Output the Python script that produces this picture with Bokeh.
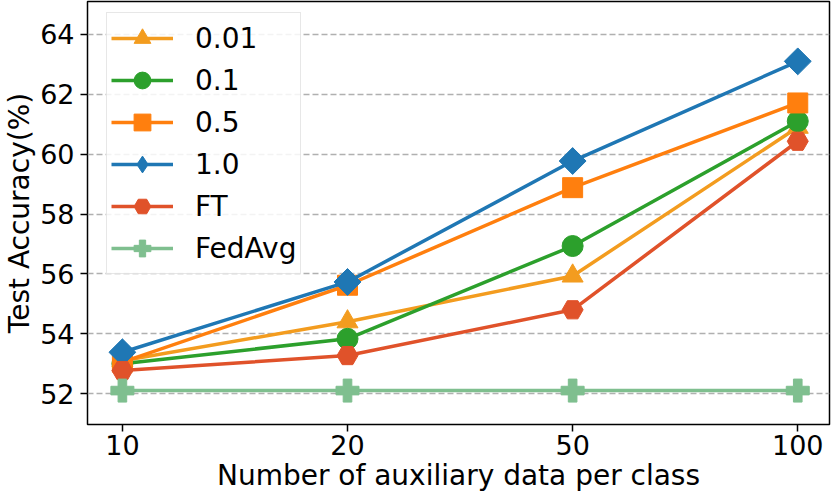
import math
from bokeh.plotting import figure
from bokeh.models import FixedTicker, Legend, LegendItem, Range1d
from bokeh.embed import file_html
from bokeh.resources import INLINE

categories = ["10", "20", "50", "100"]
series_names = ["0.01", "0.1", "0.5", "1.0", "FT", "FedAvg"]
acc_001 = [53.10, 54.40, 55.93, 60.90]
acc_01 = [53.00, 53.83, 56.93, 61.10]
acc_05 = [53.05, 55.62, 58.88, 61.71]
acc_10 = [53.38, 55.73, 59.77, 63.10]
acc_ft = [52.77, 53.27, 54.80, 60.43]
acc_fedavg = [52.10, 52.10, 52.10, 52.10]
y_ticks = [52, 54, 56, 58, 60, 62, 64]

series = [acc_001, acc_01, acc_05, acc_10, acc_ft, acc_fedavg]
colors = ["#f39c1f", "#2ca02c", "#ff7f0e", "#1f77b4", "#e0522a", "#7fbf8f"]
markers = ["triangle", "circle", "square", "square", "hex", "plus"]
legend_markers = ["triangle", "circle", "square", "diamond", "hex", "plus"]
angles = [0, 0, 0, math.pi / 4, 0, 0]
msizes = [21, 21, 20, 19, 21, 23]

xs = list(range(len(categories)))

FONT = "DejaVu Sans"
W, H = 831, 500
BL, BR, BT, BB = 84, 2, 1, 76

p = figure(width=W, height=H, output_backend="svg", toolbar_location=None,
           x_range=Range1d(-0.155, 3.141), y_range=Range1d(50.967, 65.1),
           min_border_left=BL, min_border_right=BR, min_border_top=BT,
           min_border_bottom=BB)

p.outline_line_color = "black"
p.outline_line_width = 1.5
p.outline_line_alpha = 1.0

p.xgrid.visible = False
p.ygrid.grid_line_color = "#b0b0b0"
p.ygrid.grid_line_dash = "6 3"
p.ygrid.grid_line_width = 1.5

for ax in (p.xaxis[0], p.yaxis[0]):
    ax.axis_line_color = None
    ax.major_tick_line_color = "black"
    ax.major_tick_line_width = 1.5
    ax.major_tick_out = 7
    ax.major_tick_in = 0
    ax.minor_tick_line_color = None
    ax.major_label_text_font = FONT
    ax.major_label_text_font_size = "27px"
    ax.major_label_text_color = "black"
    ax.axis_label_text_font = FONT
    ax.axis_label_text_font_size = "28px"
    ax.axis_label_text_font_style = "normal"
    ax.axis_label_text_color = "black"

p.xaxis.ticker = FixedTicker(ticks=xs)
p.xaxis.major_label_overrides = {i: c for i, c in zip(xs, categories)}
p.xaxis.axis_label = "Number of auxiliary data per class"
p.xaxis.axis_label_standoff = 1
p.xaxis.major_label_standoff = 3

p.yaxis.ticker = FixedTicker(ticks=y_ticks)
p.yaxis.axis_label = "Test Accuracy(%)"
p.yaxis.axis_label_standoff = 1
p.yaxis.major_label_standoff = 6

items = []
for name, vals, c, m, lm, a, s in zip(series_names, series, colors, markers,
                                      legend_markers, angles, msizes):
    r1 = p.line(xs, vals, line_color=c, line_width=3.5)
    if lm != m:
        # legend-shaped marker, drawn beneath (and hidden by) the plotted marker
        r_leg = p.scatter(xs, vals, marker=lm, size=s, fill_color=c,
                          line_color=c, line_width=1)
    r2 = p.scatter(xs, vals, marker=m, size=s, angle=a, fill_color=c,
                   line_color=c, line_width=1)
    if lm != m:
        items.append(LegendItem(label=name, renderers=[r1, r_leg]))
    else:
        items.append(LegendItem(label=name, renderers=[r1, r2]))

frame_h = H - BT - BB
leg_pad, leg_h = 4, 42
leg_total = 2 * leg_pad + leg_h * len(items)
legend = Legend(items=items, location=(19, frame_h - 13 - leg_total))
legend.label_text_font = FONT
legend.label_text_font_size = "28px"
legend.label_text_color = "black"
legend.glyph_width = 62
legend.glyph_height = leg_h
legend.label_height = leg_h
legend.label_standoff = 22
legend.spacing = 0
legend.padding = leg_pad
legend.margin = 0
legend.border_line_color = "#d0d0d0"
legend.border_line_width = 1.5
legend.background_fill_alpha = 0.85
p.add_layout(legend)

open("out.html", "w").write(file_html(p, INLINE))
